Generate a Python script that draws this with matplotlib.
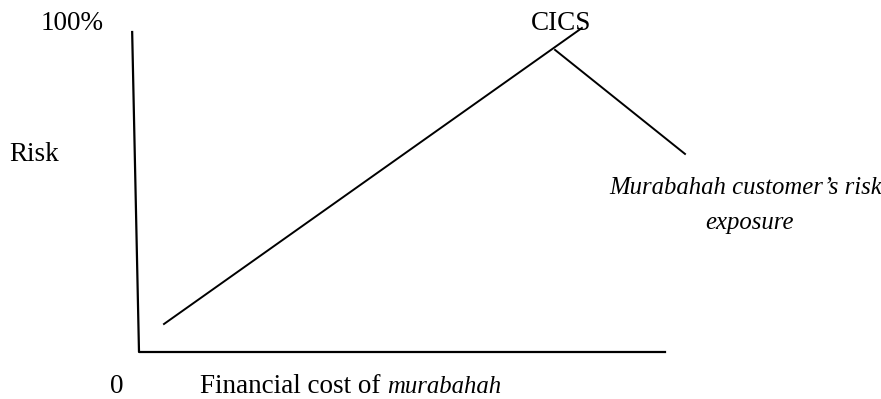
import matplotlib
matplotlib.use("Agg")
import matplotlib.pyplot as plt

plt.rcParams['font.family'] = ['Liberation Serif', 'DejaVu Serif']

# diagram geometry in chart units (x: financial cost, y: risk in %)
axis_x = [-1.3, 0, 100]
axis_y = [100, 0, 0]
cics_x = [4.75, 84.2]
cics_y = [8.75, 101.25]
exposure_x = [79.1, 103.8]
exposure_y = [94.4, 61.9]

fig = plt.figure(figsize=(8.81, 3.99), dpi=100)
ax = fig.add_axes([139/881, 47/399, 526/881, 320/399])
ax.set_xlim(0, 100)
ax.set_ylim(0, 100)
ax.axis('off')

ax.plot(axis_x, axis_y, color='black', lw=1.6, clip_on=False)
ax.plot(cics_x, cics_y, color='black', lw=1.4, clip_on=False)
ax.plot(exposure_x, exposure_y, color='black', lw=1.4, clip_on=False)

fs = 19.5   # upright text
fi = 17.8   # italic text
ax.text(-12.7, 102.8, '100%', fontsize=fs, ha='center', va='center')
ax.text(80.2, 102.8, 'CICS', fontsize=fs, ha='center', va='center')
ax.text(-19.9, 61.6, 'Risk', fontsize=fs, ha='center', va='center')
ax.text(115.3, 51.3, 'Murabahah customer\u2019s risk', fontsize=fi,
        style='italic', ha='center', va='center')
ax.text(116.0, 40.3, 'exposure', fontsize=fi, style='italic',
        ha='center', va='center')
ax.text(-4.2, -12.8, '0', fontsize=fs, ha='center', va='baseline')
t = ax.text(11.6, -12.8, 'Financial cost of ', fontsize=fs,
            ha='left', va='baseline')

# put the italic word right after the upright part, on the same baseline
fig.canvas.draw()
bb = t.get_window_extent().transformed(ax.transData.inverted())
ax.text(bb.x1, -12.8, 'murabahah', fontsize=fi, style='italic',
        ha='left', va='baseline')

fig.savefig('out.png', dpi=100)
